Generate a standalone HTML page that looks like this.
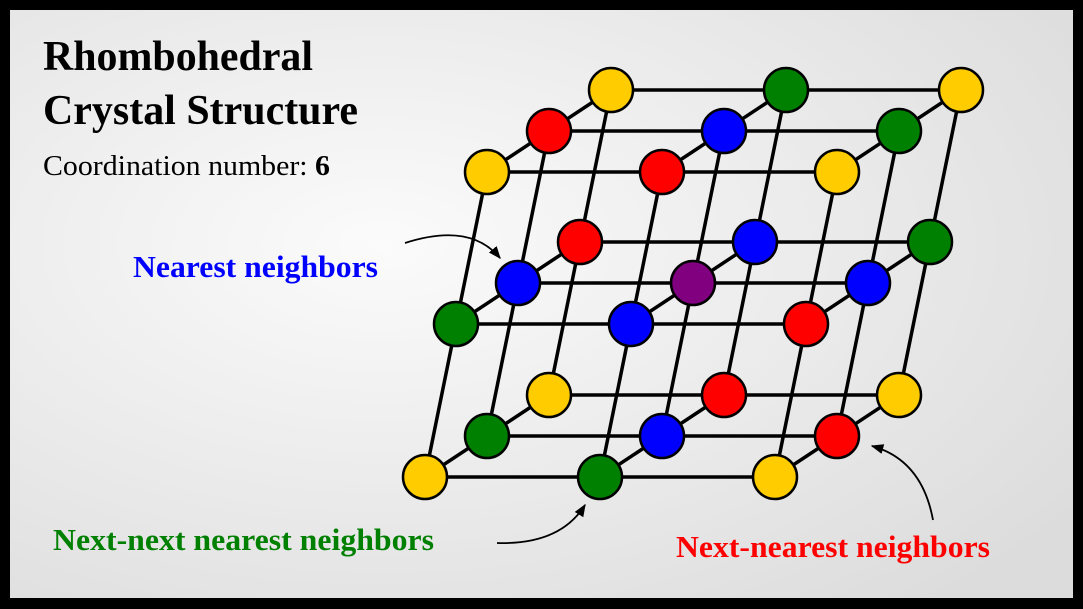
<!DOCTYPE html>
<html><head><style>
html,body{margin:0;padding:0;}
body{width:1083px;height:609px;background:#000;overflow:hidden;}
svg{display:block;}
text{font-family:"Liberation Serif",serif;}
</style></head><body>
<svg width="1083" height="609" viewBox="0 0 1083 609" xmlns="http://www.w3.org/2000/svg">
<defs>
<radialGradient id="bg" cx="0.35" cy="0.4" r="0.8">
<stop offset="0" stop-color="#fbfbfb"/><stop offset="1" stop-color="#dcdcdc"/>
</radialGradient>
<marker id="ah" viewBox="0 0 10 10" refX="9" refY="5" markerWidth="7" markerHeight="7" orient="auto"><path d="M0,1 L10,5 L0,9 Z" fill="#000"/></marker>
</defs>
<rect x="0" y="0" width="1083" height="609" fill="#000"/>
<rect x="10" y="10" width="1063" height="588" fill="url(#bg)"/>
<text x="43" y="70" font-size="42" font-weight="bold" textLength="270" lengthAdjust="spacingAndGlyphs">Rhombohedral</text>
<text x="43" y="124" font-size="42" font-weight="bold" textLength="315" lengthAdjust="spacingAndGlyphs">Crystal Structure</text>
<text x="43" y="175" font-size="29" textLength="287" lengthAdjust="spacingAndGlyphs">Coordination number: <tspan font-weight="bold">6</tspan></text>
<g stroke="#000" stroke-width="3.5" fill="none">
<line x1="425" y1="477" x2="775" y2="477"/><line x1="487" y1="436" x2="837" y2="436"/><line x1="549" y1="395" x2="899" y2="395"/>
<line x1="456" y1="324" x2="806" y2="324"/><line x1="518" y1="283" x2="868" y2="283"/><line x1="580" y1="242" x2="930" y2="242"/>
<line x1="487" y1="172" x2="837" y2="172"/><line x1="549" y1="131" x2="899" y2="131"/><line x1="611" y1="90" x2="961" y2="90"/>
<line x1="425" y1="477" x2="549" y2="395"/><line x1="600" y1="477" x2="724" y2="395"/><line x1="775" y1="477" x2="899" y2="395"/>
<line x1="456" y1="324" x2="580" y2="242"/><line x1="631" y1="324" x2="755" y2="242"/><line x1="806" y1="324" x2="930" y2="242"/>
<line x1="487" y1="172" x2="611" y2="90"/><line x1="662" y1="172" x2="786" y2="90"/><line x1="837" y1="172" x2="961" y2="90"/>
<line x1="425" y1="477" x2="487" y2="172"/><line x1="600" y1="477" x2="662" y2="172"/><line x1="775" y1="477" x2="837" y2="172"/>
<line x1="487" y1="436" x2="549" y2="131"/><line x1="662" y1="436" x2="724" y2="131"/><line x1="837" y1="436" x2="899" y2="131"/>
<line x1="549" y1="395" x2="611" y2="90"/><line x1="724" y1="395" x2="786" y2="90"/><line x1="899" y1="395" x2="961" y2="90"/>
</g>
<g stroke="#000" stroke-width="2.5">
<circle cx="611" cy="90" r="22" fill="#ffcc00"/><circle cx="786" cy="90" r="22" fill="#008000"/><circle cx="961" cy="90" r="22" fill="#ffcc00"/>
<circle cx="549" cy="131" r="22" fill="#ff0000"/><circle cx="724" cy="131" r="22" fill="#0000ff"/><circle cx="899" cy="131" r="22" fill="#008000"/>
<circle cx="487" cy="172" r="22" fill="#ffcc00"/><circle cx="662" cy="172" r="22" fill="#ff0000"/><circle cx="837" cy="172" r="22" fill="#ffcc00"/>
<circle cx="580" cy="242" r="22" fill="#ff0000"/><circle cx="755" cy="242" r="22" fill="#0000ff"/><circle cx="930" cy="242" r="22" fill="#008000"/>
<circle cx="518" cy="283" r="22" fill="#0000ff"/><circle cx="693" cy="283" r="22" fill="#800080"/><circle cx="868" cy="283" r="22" fill="#0000ff"/>
<circle cx="456" cy="324" r="22" fill="#008000"/><circle cx="631" cy="324" r="22" fill="#0000ff"/><circle cx="806" cy="324" r="22" fill="#ff0000"/>
<circle cx="549" cy="395" r="22" fill="#ffcc00"/><circle cx="724" cy="395" r="22" fill="#ff0000"/><circle cx="899" cy="395" r="22" fill="#ffcc00"/>
<circle cx="487" cy="436" r="22" fill="#008000"/><circle cx="662" cy="436" r="22" fill="#0000ff"/><circle cx="837" cy="436" r="22" fill="#ff0000"/>
<circle cx="425" cy="477" r="22" fill="#ffcc00"/><circle cx="600" cy="477" r="22" fill="#008000"/><circle cx="775" cy="477" r="22" fill="#ffcc00"/>
</g>
<g stroke="#000" stroke-width="1.8" fill="none" marker-end="url(#ah)">
<path d="M405,243 Q470,222 500,258"/>
<path d="M497,543 Q560,545 585,505"/>
<path d="M933,520 Q922,460 872,446"/>
</g>
<text x="133" y="277" font-size="31" font-weight="bold" fill="#0000ff" textLength="245" lengthAdjust="spacingAndGlyphs">Nearest neighbors</text>
<text x="53" y="550" font-size="31" font-weight="bold" fill="#008000" textLength="381" lengthAdjust="spacingAndGlyphs">Next-next nearest neighbors</text>
<text x="676" y="557" font-size="31" font-weight="bold" fill="#ff0000" textLength="314" lengthAdjust="spacingAndGlyphs">Next-nearest neighbors</text>
</svg>
</body></html>
